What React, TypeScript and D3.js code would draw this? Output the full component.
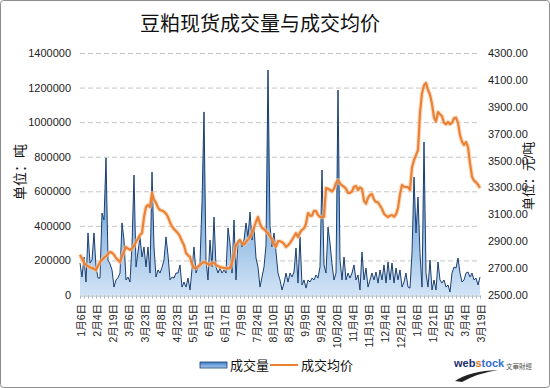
import { useRef, useEffect } from 'react';
import * as d3 from 'd3';

// date labels shown under the axis (one every 8 trading days)
const tickLabels = ['1月6日', '2月4日', '2月19日', '3月6日', '3月23日', '4月8日', '4月23日', '5月15日', '6月1日', '6月17日',
  '7月9日', '7月24日', '8月10日', '8月25日', '9月9日', '9月24日', '10月20日', '11月4日', '11月19日', '12月4日',
  '12月21日', '1月6日', '1月21日', '2月5日', '3月4日', '3月19日'];
const labelStep = 8;

// 成交量, thousand tonnes
const volumeK = [
  185, 104, 220, 75, 359, 185, 202, 359, 162, 98, 98, 474, 434, 793, 202, 180, 145, 46, 87, 100,
  127, 417, 318, 87, 104, 75, 289, 694, 162, 250, 336, 220, 278, 162, 278, 127, 711, 278, 104, 145,
  127, 160, 202, 336, 231, 87, 104, 98, 127, 127, 174, 46, 75, 46, 98, 29, 150, 278, 127, 162,
  185, 532, 1059, 202, 87, 318, 162, 451, 162, 127, 156, 127, 145, 127, 388, 300, 127, 434, 87, 318,
  318, 278, 318, 417, 336, 480, 318, 393, 214, 162, 46, 104, 162, 289, 1302, 400, 278, 359, 249, 127,
  87, 29, 69, 127, 75, 127, 104, 133, 272, 69, 336, 58, 87, 40, 87, 75, 98, 87, 116, 98,
  162, 723, 174, 127, 393, 301, 180, 87, 127, 1186, 202, 87, 220, 87, 127, 98, 127, 174, 87, 116,
  29, 249, 87, 156, 46, 87, 127, 87, 133, 69, 145, 87, 174, 69, 191, 87, 185, 69, 156, 87,
  145, 46, 75, 127, 46, 40, 243, 683, 359, 567, 240, 46, 885, 127, 46, 202, 29, 87, 29, 191,
  87, 69, 87, 46, 58, 17, 127, 162, 156, 214, 127, 75, 87, 127, 133, 104, 127, 87, 98, 58,
  104,
];

// 成交均价, yuan/tonne
const price = [
  2800, 2770, 2740, 2723, 2715, 2705, 2700, 2695, 2686, 2715, 2745, 2760, 2778, 2790, 2805, 2820, 2815, 2800, 2775, 2760,
  2745, 2790, 2825, 2857, 2845, 2835, 2845, 2865, 2894, 2920, 2946, 2960, 3080, 3155, 3170, 3155, 3259, 3210, 3185, 3150,
  3132, 3128, 3120, 3105, 3080, 3040, 3010, 2990, 2975, 2960, 2935, 2900, 2870, 2812, 2795, 2783, 2730, 2700, 2700, 2712,
  2723, 2738, 2745, 2738, 2730, 2723, 2740, 2740, 2723, 2715, 2708, 2705, 2700, 2700, 2698, 2700, 2740, 2800, 2872, 2890,
  2909, 2885, 2875, 2894, 2912, 2931, 2965, 3000, 3045, 3080, 3030, 3000, 2990, 2975, 2960, 2935, 2915, 2875, 2860, 2900,
  2900, 2894, 2880, 2857, 2870, 2887, 2910, 2935, 2960, 2931, 2965, 2985, 2995, 3030, 3110, 3090, 3090, 3125, 3125, 3095,
  3080, 3080, 3080, 3296, 3290, 3281, 3270, 3290, 3333, 3355, 3330, 3315, 3305, 3290, 3259, 3259, 3270, 3305, 3310, 3281,
  3300, 3290, 3200, 3180, 3222, 3245, 3250, 3210, 3192, 3190, 3165, 3140, 3105, 3090, 3080, 3090, 3095, 3082, 3100, 3147,
  3250, 3318, 3305, 3303, 3303, 3281, 3450, 3504, 3541, 3579, 3854, 4000, 4060, 4077, 4025, 3990, 3920, 3820, 3790, 3861,
  3845, 3830, 3780, 3770, 3787, 3770, 3780, 3815, 3820, 3780, 3690, 3640, 3616, 3638, 3600, 3480, 3380, 3350, 3340, 3320,
  3296,
];

const leftTicks = [0, 200000, 400000, 600000, 800000, 1000000, 1200000, 1400000];
const rightTicks = [2500, 2700, 2900, 3100, 3300, 3500, 3700, 3900, 4100, 4300];

const W = 550;
const H = 388;
const FONT = '"Liberation Sans", "Noto Sans CJK SC", sans-serif';

export default function App() {
  const svgRef = useRef<SVGSVGElement>(null);

  useEffect(() => {
    if (!svgRef.current) return;
    const svg = d3.select(svgRef.current);
    svg.selectAll('*').remove();

    const x0 = 80, x1 = 480, yTop = 53, yBot = 295;
    const n = volumeK.length;
    const x = d3.scaleLinear().domain([0, n - 1]).range([x0, x1]);
    const yL = d3.scaleLinear().domain([0, 1400000]).range([yBot, yTop]);
    const yR = d3.scaleLinear().domain([2500, 4300]).range([yBot, yTop]);

    svg.append('rect').attr('x', 0.5).attr('y', 0.5).attr('width', W - 1).attr('height', H - 1)
      .attr('rx', 3).attr('fill', '#fff').attr('stroke', '#8c8c8c');

    const defs = svg.append('defs');
    const grad = defs.append('linearGradient').attr('id', 'volGrad')
      .attr('gradientUnits', 'userSpaceOnUse').attr('x1', 0).attr('x2', 0)
      .attr('y1', yL(1300000)).attr('y2', yBot);
    grad.append('stop').attr('offset', '0%').attr('stop-color', '#1d5fa6');
    grad.append('stop').attr('offset', '55%').attr('stop-color', '#6fa5da');
    grad.append('stop').attr('offset', '100%').attr('stop-color', '#d2e4f6');
    const lgGrad = defs.append('linearGradient').attr('id', 'lgGrad').attr('x1', 0).attr('x2', 0).attr('y1', 0).attr('y2', 1);
    lgGrad.append('stop').attr('offset', '0%').attr('stop-color', '#3b7bc4');
    lgGrad.append('stop').attr('offset', '100%').attr('stop-color', '#a9cdf0');

    // title
    svg.append('text').attr('x', 260).attr('y', 31).attr('text-anchor', 'middle')
      .attr('font-family', FONT).attr('font-size', 20).attr('fill', '#111')
      .text('豆粕现货成交量与成交均价');

    // gridlines
    svg.append('g').selectAll('line').data(leftTicks.slice(1)).join('line')
      .attr('x1', x0).attr('x2', x1)
      .attr('y1', (d) => yL(d) + 0.5).attr('y2', (d) => yL(d) + 0.5)
      .attr('stroke', '#c6c6c6').attr('stroke-dasharray', '5,3');

    // left ticks
    svg.append('g').selectAll('text').data(leftTicks).join('text')
      .attr('x', 71).attr('y', (d) => yL(d) + 4).attr('text-anchor', 'end')
      .attr('font-family', FONT).attr('font-size', 11).attr('fill', '#222')
      .text((d) => String(d));

    // right ticks
    svg.append('g').selectAll('text').data(rightTicks).join('text')
      .attr('x', 488).attr('y', (d) => yR(d) + 4)
      .attr('font-family', FONT).attr('font-size', 11).attr('fill', '#222')
      .text((d) => d.toFixed(2));

    // axis titles
    svg.append('text').attr('transform', 'translate(25,172) rotate(-90)').attr('text-anchor', 'middle')
      .attr('font-family', FONT).attr('font-size', 14).attr('fill', '#111').text('单位：吨');
    svg.append('text').attr('transform', 'translate(533,176) rotate(-90)').attr('text-anchor', 'middle')
      .attr('font-family', FONT).attr('font-size', 13).attr('fill', '#111').text('单位：元/吨');

    // volume area
    const area = d3.area<number>().x((_, i) => x(i)).y0(yBot).y1((d) => yL(d * 1000));
    const line = d3.line<number>().x((_, i) => x(i)).y((d) => yL(d * 1000));
    svg.append('path').datum(volumeK).attr('d', area).attr('fill', 'url(#volGrad)');
    svg.append('path').datum(volumeK).attr('d', line).attr('fill', 'none')
      .attr('stroke', '#1c3f70').attr('stroke-width', 1).attr('stroke-linejoin', 'round');

    // price line
    const pLine = d3.line<number>().x((_, i) => x(i)).y((d) => yR(d));
    svg.append('path').datum(price).attr('d', pLine).attr('fill', 'none')
      .attr('stroke', '#f6c9a0').attr('stroke-width', 4.5).attr('stroke-opacity', 0.6).attr('stroke-linejoin', 'round');
    svg.append('path').datum(price).attr('d', pLine).attr('fill', 'none')
      .attr('stroke', '#eb8135').attr('stroke-width', 2.2).attr('stroke-linejoin', 'round');

    // bottom axis
    const minor = d3.axisBottom(x).tickValues(d3.range(0, n, 2)).tickSize(3).tickFormat(() => '');
    const gx = svg.append('g').attr('transform', `translate(0,${yBot + 0.5})`).call(minor);
    gx.select('.domain').attr('stroke', '#a8b8c8');
    gx.selectAll('.tick line').attr('stroke', '#a8b8c8');

    svg.append('g').selectAll('text').data(tickLabels).join('text')
      .attr('transform', (_, i) => `translate(${x(i * labelStep) + 1},304) rotate(-90)`)
      .attr('text-anchor', 'end').attr('dy', '0.35em')
      .attr('font-family', FONT).attr('font-size', 10.5).attr('fill', '#222')
      .text((d) => d);

    // legend
    const lg = svg.append('g').attr('font-family', FONT).attr('font-size', 13).attr('fill', '#111');
    lg.append('rect').attr('x', 200).attr('y', 362).attr('width', 27).attr('height', 6)
      .attr('fill', 'url(#lgGrad)').attr('stroke', '#1c3f70').attr('stroke-width', 0.8);
    lg.append('text').attr('x', 230).attr('y', 370).text('成交量');
    lg.append('line').attr('x1', 270).attr('x2', 298).attr('y1', 365).attr('y2', 365)
      .attr('stroke', '#eb8135').attr('stroke-width', 2);
    lg.append('text').attr('x', 301).attr('y', 370).text('成交均价');

    // logo
    const logo = svg.append('g');
    logo.append('path').attr('d', 'M455,381 Q470,371 498,370 Q478,373 462,382 Z').attr('fill', '#222');
    const lt = logo.append('text').attr('x', 454).attr('y', 367)
      .attr('font-family', FONT).attr('font-size', 11).attr('font-weight', 'bold');
    lt.append('tspan').attr('fill', '#1c2f6e').text('web');
    lt.append('tspan').attr('fill', '#d9772b').text('s');
    lt.append('tspan').attr('fill', '#2f6fd0').text('tock');
    logo.append('text').attr('x', 506).attr('y', 369)
      .attr('font-family', FONT).attr('font-size', 6.5).attr('fill', '#555').text('文華財經');
  }, []);

  return <svg ref={svgRef} width={W} height={H} style={{ position: 'absolute', left: 0, top: 0 }} />;
}
